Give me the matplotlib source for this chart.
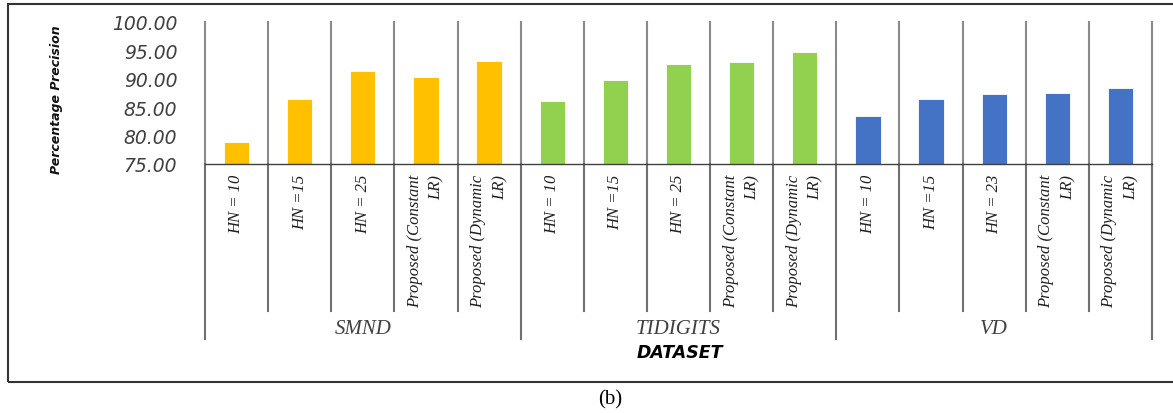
import matplotlib.pyplot as plt
import matplotlib.transforms as mtransforms
from matplotlib.patches import Rectangle

# data
groups = ['SMND', 'TIDIGITS', 'VD']
smnd_labels = ['HN = 10', 'HN =15', 'HN = 25', 'Proposed (Constant\nLR)', 'Proposed (Dynamic\nLR)']
tidigits_labels = ['HN = 10', 'HN =15', 'HN = 25', 'Proposed (Constant\nLR)', 'Proposed (Dynamic\nLR)']
vd_labels = ['HN = 10', 'HN =15', 'HN = 23', 'Proposed (Constant\nLR)', 'Proposed (Dynamic\nLR)']
smnd_values = [78.9, 86.4, 91.4, 90.4, 93.1]
tidigits_values = [86.1, 89.8, 92.6, 92.9, 94.7]
vd_values = [83.4, 86.4, 87.3, 87.5, 88.3]
colors = ['#FFC000', '#92D050', '#4472C4']
y_ticks = [75, 80, 85, 90, 95, 100]

W, H = 1173, 414
fig = plt.figure(figsize=(W / 100, H / 100), dpi=100)


def fx(px):
    return px / W


def fy(py):
    return 1 - py / H


# plot area in pixel coords
left, right, top, bottom = 205, 1152, 23, 165
ax = fig.add_axes([fx(left), fy(bottom), fx(right - left), (bottom - top) / H])
axh = bottom - top  # axes height in px
axw = right - left

all_labels = [smnd_labels, tidigits_labels, vd_labels]
all_values = [smnd_values, tidigits_values, vd_values]

pos = 0
for g, (labs, vals) in enumerate(zip(all_labels, all_values)):
    xs = list(range(pos, pos + len(vals)))
    ax.bar(xs, [v - 75 for v in vals], bottom=75, width=0.4, color=colors[g],
           edgecolor='white', linewidth=0.6)
    pos += len(vals)

n = pos
ax.set_xlim(-0.5, n - 0.5)
ax.set_ylim(75, 100)

for s in ['top', 'right', 'left']:
    ax.spines[s].set_visible(False)
ax.spines['bottom'].set_color('#404040')
ax.spines['bottom'].set_linewidth(1.0)

ax.set_xticks([])
ax.set_yticks(y_ticks)
ax.set_yticklabels([f'{t:.2f}' for t in y_ticks], fontsize=13.5, style='italic',
                   color='#404040')
ax.tick_params(axis='y', length=0, pad=20)

ax.set_ylabel('Percentage Precision', fontsize=9, fontweight='bold', style='italic',
              color='#111111')
ax.yaxis.set_label_coords((63 - left) / axw, (bottom - 100) / axh)

trans = mtransforms.blended_transform_factory(ax.transData, ax.transAxes)

# vertical separators in plot area and in the label area
group_edges = [-0.5]
for vals in all_values:
    group_edges.append(group_edges[-1] + len(vals))
for i in range(n + 1):
    x = i - 0.5
    ax.plot([x, x], [0, 1], transform=trans, color='#8a8a8a', lw=1.5, clip_on=False)
    low = (bottom - 340) / axh if x in group_edges else (bottom - 312) / axh
    ax.plot([x, x], [0, low], transform=trans, color='#707070', lw=1.5, clip_on=False)

# category labels
i = 0
for labs in all_labels:
    for lab in labs:
        ax.text(i, -10 / axh, lab, transform=trans, rotation=90, ha='center', va='top',
                multialignment='right', fontsize=12, style='italic',
                family='Liberation Serif', color='#202020', linespacing=1.5)
        i += 1

# group labels
for g, name in enumerate(groups):
    xc = (group_edges[g] + group_edges[g + 1]) / 2
    ax.text(xc, (bottom - 330) / axh, name, transform=trans, ha='center', va='center',
            fontsize=15, style='italic', family='Liberation Serif', color='#404040')

fig.text(fx(680), fy(353), 'DATASET', ha='center', va='center', fontsize=12.5,
         fontweight='bold', style='italic', color='black')

# outer frame and caption
fig.patches.append(Rectangle((fx(8), fy(383)), fx(1180) - fx(8), fy(5) - fy(383),
                             transform=fig.transFigure, fill=False,
                             edgecolor='#333333', lw=1.5))
fig.text(fx(610), fy(400), '(b)', ha='center', va='center', fontsize=15,
         family='Liberation Serif')

fig.savefig('out.png', dpi=100)
